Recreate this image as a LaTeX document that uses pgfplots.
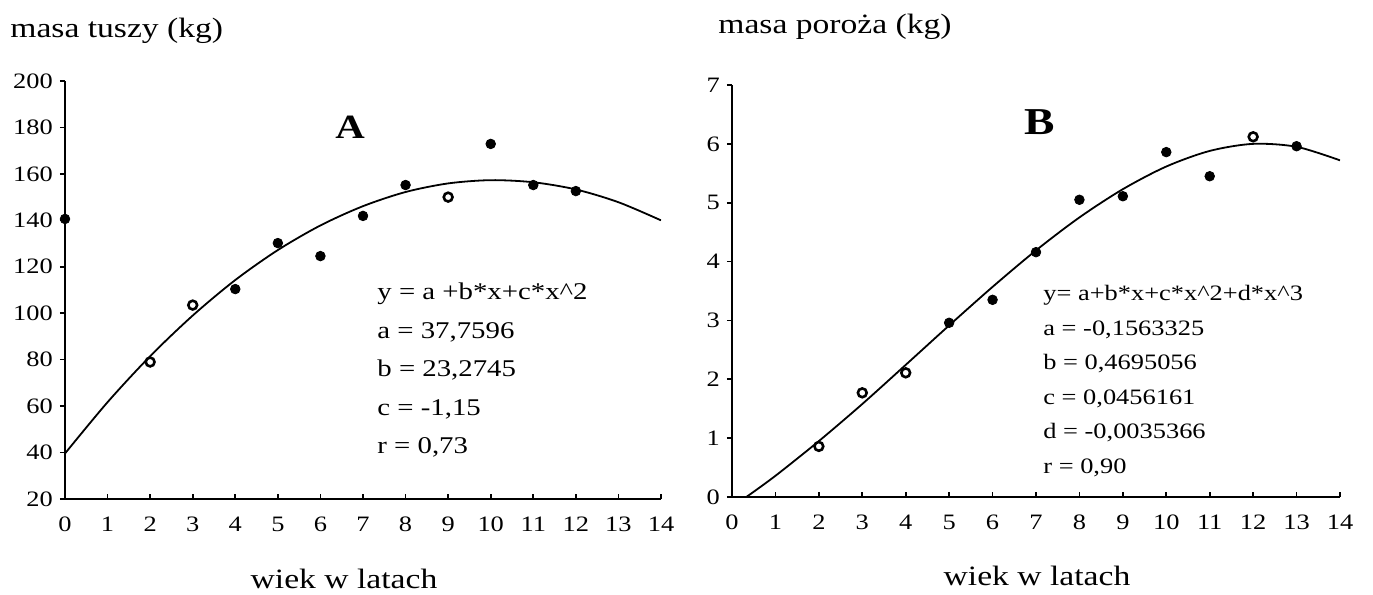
\documentclass[border=0pt]{standalone}
\usepackage{fontspec}
\setmainfont[FakeStretch=1.2]{Liberation Serif}
\usepackage{pgfplots}
\pgfplotsset{compat=1.18}
\newcommand\tk{\fontsize{11}{13}\selectfont}
\newcommand\te{\fontsize{12}{14}\selectfont}
\newcommand\tl{\fontsize{14}{16}\selectfont}
\pgfplotsset{
  base/.style={
    scale only axis,
    anchor=south west,
    axis x line*=bottom, axis y line*=left,
    axis line style={-, line width=0.9pt, black},
    xmin=0, xmax=14, xtick={0,...,14},
    xtick align=inside, ytick align=outside,
    major tick length=2.6pt,
    tick style={black, line width=0.8pt},
    /pgf/number format/assume math mode=true,
    ticklabel style={font=\tk},
    xticklabel style={yshift=-5.5pt},
    clip mode=individual,
  },
  fillpt/.style={only marks, mark=*, mark size=2.4pt, mark options={fill=black, draw=black}},
  hollowpt/.style={only marks, mark=*, mark size=2.2pt, mark options={fill=white, draw=black, line width=1.3pt}},
  fitline/.style={smooth, black, line width=0.9pt, no marks},
}
\begin{document}
\begin{tikzpicture}
\useasboundingbox (0,0) rectangle (686.5pt,297.5pt);
% Panel A
\begin{axis}[base, at={(32.5pt,48pt)}, width=298pt, height=209pt,
  ymin=20, ymax=200, ytick={20,40,...,200}]
\addplot[fitline] coordinates {(0,39.6) (1,61.7) (2,81.5) (3,99.0) (4,114.3) (5,127.2) (6,137.8) (7,146.1) (8,152.2) (9,155.9) (10,157.3) (11,156.4) (12,153.3) (13,147.8) (14,140.0)};
\addplot[fillpt] coordinates {(0,140.6) (4,110.4) (5,130.2) (6,124.6) (7,141.9) (8,155.2) (10,172.9) (11,155.2) (12,152.6)};
\addplot[hollowpt] coordinates {(2,79) (3,103.5) (9,150.0)};
\end{axis}
% Panel B
\begin{axis}[base, at={(366pt,49pt)}, width=304pt, height=206pt,
  ymin=0, ymax=7, ytick={0,...,7}]
\addplot[fitline] coordinates {(0.33,0) (1,0.36) (2,0.95) (3,1.58) (4,2.245) (5,2.915) (6,3.57) (7,4.19) (8,4.75) (9,5.23) (10,5.615) (11,5.88) (12,6.0) (13,5.95) (14,5.72)};
\addplot[fillpt] coordinates {(5,2.96) (6,3.35) (7,4.16) (8,5.05) (9,5.11) (10,5.86) (11,5.45) (13,5.96)};
\addplot[hollowpt] coordinates {(2,0.86) (3,1.77) (4,2.11) (12,6.12)};
\end{axis}
% titles
\node[anchor=west, inner sep=0, font=\tl] at (5pt,282pt) {masa tuszy (kg)};
\node[anchor=west, inner sep=0, font=\tl] at (359pt,284pt) {masa poroża (kg)};
\node[inner sep=0, font=\tl] at (172pt,8pt) {wiek w latach};
\node[inner sep=0, font=\tl] at (518.5pt,9.5pt) {wiek w latach};
\node[inner sep=0, font=\fontsize{17}{19}\selectfont\bfseries] at (175pt,234pt) {A};
\node[inner sep=0, font=\fontsize{19}{21}\selectfont\bfseries] at (520pt,236.5pt) {B};
% equations A
\foreach \t [count=\i from 0] in {{y = a +b*x+c*x\^{}2},{a = 37,7596},{b = 23,2745},{c = -1,15},{r = 0,73}}
  \node[anchor=base west, inner sep=0, font=\te] at (188.5pt,147.5pt-\i*19.25pt) {\t};
% equations B
\foreach \t [count=\i from 0] in {{y= a+b*x+c*x\^{}2+d*x\^{}3},{a = -0,1563325},{b = 0,4695056},{c = 0,0456161},{d = -0,0035366},{r = 0,90}}
  \node[anchor=base west, inner sep=0, font=\tk] at (521.5pt,147.2pt-\i*17.25pt) {\t};
\end{tikzpicture}
\end{document}
